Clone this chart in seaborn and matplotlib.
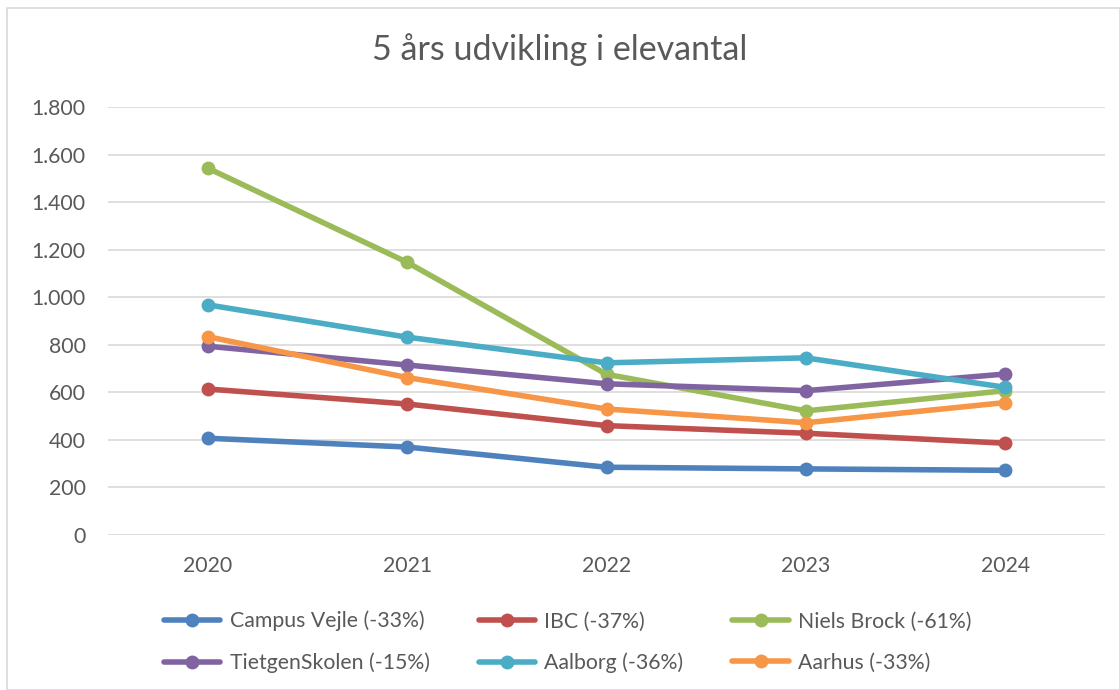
import matplotlib
matplotlib.use("Agg")
import matplotlib.pyplot as plt
import seaborn as sns
import pandas as pd
from matplotlib.ticker import FuncFormatter, MultipleLocator
from matplotlib.patches import Rectangle

years = ["2020", "2021", "2022", "2023", "2024"]
campus_vejle = [407, 370, 285, 278, 272]
ibc = [614, 551, 460, 428, 386]
niels_brock = [1543, 1147, 676, 522, 607]
tietgen = [794, 715, 636, 607, 677]
aalborg = [968, 832, 724, 745, 621]
aarhus = [834, 662, 530, 472, 557]

series_names = ["Campus Vejle (-33%)", "IBC (-37%)", "Niels Brock (-61%)",
                "TietgenSkolen (-15%)", "Aalborg (-36%)", "Aarhus (-33%)"]
series_values = [campus_vejle, ibc, niels_brock, tietgen, aalborg, aarhus]
colors = ["#4F81BD", "#C0504D", "#9BBB59", "#8064A2", "#4BACC6", "#F79646"]

rows = []
for name, vals in zip(series_names, series_values):
    for i, (y, v) in enumerate(zip(years, vals)):
        rows.append({"pos": i, "year": y, "value": v, "series": name})
df = pd.DataFrame(rows)

sns.set_theme(style="white")
plt.rcParams["font.family"] = ["Lato", "DejaVu Sans"]
text_color = "#595959"

fig = plt.figure(figsize=(11.2, 6.9), dpi=100)
ax = fig.add_axes([108/1120, 1-535/690, (1105-108)/1120, (535-107)/690])

sns.lineplot(data=df, x="pos", y="value", hue="series", hue_order=series_names,
             palette=colors, marker="o", markersize=10, markeredgewidth=0,
             linewidth=4, ax=ax, legend=True)

ax.set_xlim(-0.5, 4.5)
ax.set_ylim(0, 1800)
ax.yaxis.set_major_locator(MultipleLocator(200))
ax.yaxis.set_major_formatter(FuncFormatter(lambda v, p: f"{int(v):,}".replace(",", ".")))
ax.set_xticks(range(len(years)))
ax.set_xticklabels(years)
ax.grid(axis="y", color="#D9D9D9", linewidth=1.2)
ax.grid(axis="x", visible=False)
ax.set_axisbelow(True)
for s in ax.spines.values():
    s.set_visible(False)
ax.tick_params(axis="both", length=0, labelsize=15.3, colors=text_color)
ax.tick_params(axis="y", pad=16)
ax.tick_params(axis="x", pad=15)
ax.set_xlabel("")
ax.set_ylabel("")

fig.text(0.5, 1-50/690, "5 års udvikling i elevantal", ha="center", va="center",
         fontsize=24.5, color=text_color)

handles, labels = ax.get_legend_handles_labels()
order = [0, 3, 1, 4, 2, 5]
ax.legend([handles[i] for i in order], [labels[i] for i in order], ncol=3,
          loc="center", bbox_to_anchor=(0.507, 1-642/690), bbox_transform=fig.transFigure,
          frameon=False, fontsize=15.3, labelcolor=text_color, handlelength=2.65,
          handletextpad=0.45, columnspacing=2.3, labelspacing=1.0)

fig.patches.append(Rectangle((7/1120, 0), 1-7/1120, 1-8/690, transform=fig.transFigure,
                             fill=False, edgecolor="#D9D9D9", linewidth=1.2))

fig.savefig("out.png", dpi=100, facecolor="white")
